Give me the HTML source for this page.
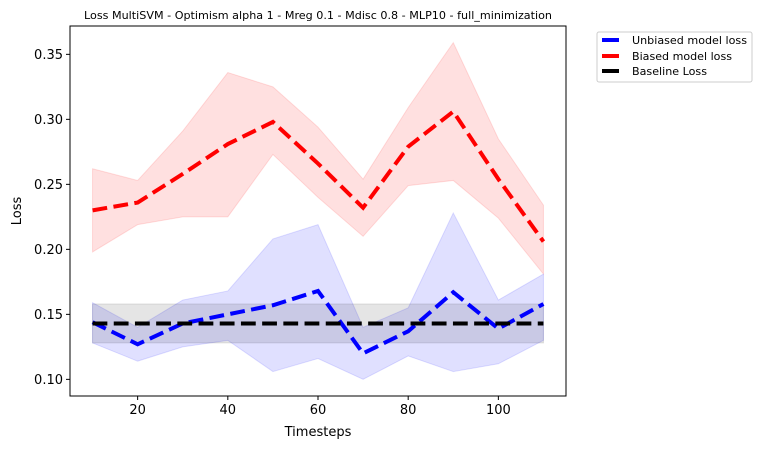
<!DOCTYPE html>
<html><head><meta charset="utf-8"><style>body{margin:0;background:#fff}svg{font-family:"DejaVu Sans","Liberation Sans",sans-serif}</style></head>
<body>
<svg id="chart" width="761" height="449" viewBox="0 0 761 449" xmlns="http://www.w3.org/2000/svg">
<text x="318" y="19" font-size="11" textLength="468" lengthAdjust="spacingAndGlyphs" text-anchor="middle">Loss MultiSVM - Optimism alpha 1 - Mreg 0.1 - Mdisc 0.8 - MLP10 - full_minimization</text>
<g id="plot"></g>
<text x="318" y="436" font-size="13" text-anchor="middle">Timesteps</text>
<text transform="translate(21,211) rotate(-90)" font-size="13" text-anchor="middle">Loss</text>
<g>
<rect x="597" y="32" width="155" height="50" rx="2" fill="#fff" stroke="#ccc"/>
<line x1="602" y1="40" x2="619" y2="40" stroke="#00f" stroke-width="4"/>
<text x="632" y="44" font-size="11" textLength="115" lengthAdjust="spacingAndGlyphs">Unbiased model loss</text>
<line x1="602" y1="56" x2="619" y2="56" stroke="#f00" stroke-width="4"/>
<text x="632" y="60" font-size="11" textLength="100" lengthAdjust="spacingAndGlyphs">Biased model loss</text>
<line x1="602" y1="71" x2="619" y2="71" stroke="#000" stroke-width="4"/>
<text x="632" y="75" font-size="11" textLength="75" lengthAdjust="spacingAndGlyphs">Baseline Loss</text>
</g>
</svg>
<script>
const timesteps=[10,20,30,40,50,60,70,80,90,100,110];
const biasedMean=[0.230,0.236,0.258,0.281,0.298,0.266,0.232,0.279,0.306,0.254,0.206];
const biasedUpper=[0.262,0.253,0.291,0.336,0.325,0.294,0.254,0.309,0.359,0.285,0.234];
const biasedLower=[0.198,0.219,0.225,0.225,0.273,0.240,0.210,0.249,0.253,0.224,0.181];
const unbiasedMean=[0.144,0.127,0.143,0.150,0.157,0.168,0.120,0.137,0.167,0.139,0.158];
const unbiasedUpper=[0.159,0.140,0.161,0.168,0.208,0.219,0.140,0.155,0.228,0.161,0.181];
const unbiasedLower=[0.128,0.114,0.125,0.130,0.106,0.116,0.100,0.118,0.106,0.112,0.130];
const baseline=[0.143];
const baselineBand=[0.128,0.158];
const xTicks=[20,40,60,80,100];
const yTicks=[0.10,0.15,0.20,0.25,0.30,0.35];

const L=70,R=566,T=26,B=396,X0=5,X1=115,Y0=0.0872,Y1=0.3718;
const sx=v=>L+(v-X0)/(X1-X0)*(R-L);
const sy=v=>B-(v-Y0)/(Y1-Y0)*(B-T);
const g=document.getElementById('plot');
const NS='http://www.w3.org/2000/svg';
function mk(t,a){const e=document.createElementNS(NS,t);for(const k in a)e.setAttribute(k,a[k]);g.appendChild(e);return e;}
function band(up,lo,color,name){
  let d=timesteps.map((t,i)=>(i?'L':'M')+sx(t)+','+sy(up[i])).join('');
  for(let i=timesteps.length-1;i>=0;i--)d+='L'+sx(timesteps[i])+','+sy(lo[i]);
  const e=mk('path',{d:d+'Z',fill:color,'fill-opacity':0.12,stroke:color,'stroke-opacity':0.12});
  
  
}
function line(vals,color,name){
  const e=mk('polyline',{points:timesteps.map((t,i)=>sx(t)+','+sy(vals[i])).join(' '),fill:'none',stroke:color,'stroke-width':4,'stroke-dasharray':'14.8,6.4'});
  
  
}
band(biasedUpper,biasedLower,'#f00','biased-band');
band(unbiasedUpper,unbiasedLower,'#00f','unbiased-band');
const xa=sx(timesteps[0]),xb=sx(timesteps[timesteps.length-1]);
const bb=mk('rect',{x:xa,y:sy(baselineBand[1]),width:xb-xa,height:sy(baselineBand[0])-sy(baselineBand[1]),fill:'#000','fill-opacity':0.1,stroke:'#000','stroke-opacity':0.1});


line(biasedMean,'#f00','biased-line');
line(unbiasedMean,'#00f','unbiased-line');
const bl=mk('line',{x1:xa,x2:xb,y1:sy(baseline[0]),y2:sy(baseline[0]),stroke:'#000','stroke-width':4,'stroke-dasharray':'14.8,6.4'});


const fr=mk('rect',{x:L,y:T,width:R-L,height:B-T,fill:'none',stroke:'#000','stroke-width':1});


xTicks.forEach(t=>{
  const x=sx(t);
  const tk=mk('line',{x1:x,x2:x,y1:B,y2:B+4,stroke:'#000'});
  
  
  const tx=mk('text',{x:x,y:B+18,'font-size':13,'text-anchor':'middle'});
  tx.textContent=t;
  
  
});
yTicks.forEach(t=>{
  const y=sy(t);
  const tk=mk('line',{x1:L-4,x2:L,y1:y,y2:y,stroke:'#000'});
  
  
  const tx=mk('text',{x:L-7,y:y+4.5,'font-size':13,'text-anchor':'end'});
  tx.textContent=t.toFixed(2);
  
  
});
</script>
</body></html>
